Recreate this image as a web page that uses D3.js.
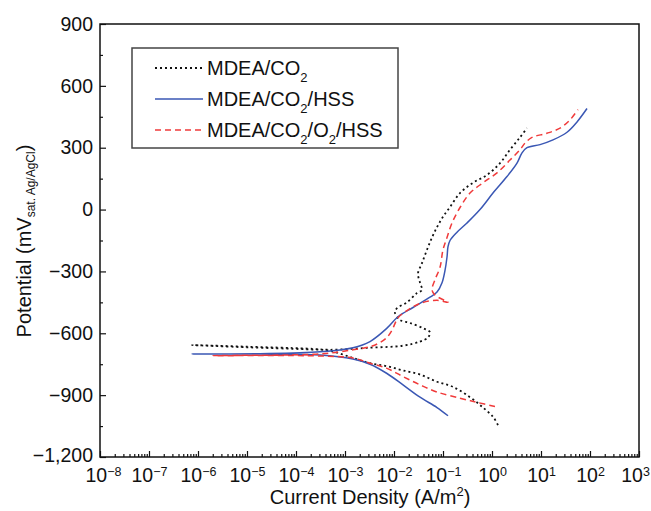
<!DOCTYPE html>
<html>
<head>
<meta charset="utf-8">
<script src="https://cdnjs.cloudflare.com/ajax/libs/d3/7.8.5/d3.min.js"></script>
<style>
  body { margin: 0; background: #fff; }
  svg { font-family: "Liberation Sans", Arial, Helvetica, sans-serif; }
  .axis text { font-size: 19.5px; fill: #111; }
  .axis line { stroke: #111; stroke-width: 1.2; }
</style>
</head>
<body>
<div id="chart"></div>
<script>
// log10 of current density (A/m2) and potential (mV)
const seriesNames = ["MDEA/CO2", "MDEA/CO2/HSS", "MDEA/CO2/O2/HSS"];

const mdeaCo2LogI = [0.122, 0.020, -0.184, -0.449, -0.796, -1.122, -1.469, -1.816, -2.143, -2.490, -2.837, -3.306,
  -3.776, -5.0, -6.122, -5.0, -3.776, -3.306,
  -2.490, -1.816, -1.469, -1.306, -1.265, -1.408, -1.673, -1.878, -1.980, -1.939, -1.735, -1.531, -1.429,
  -1.469, -1.510, -1.429, -1.327, -1.224, -1.122, -1.0, -0.857, -0.653, -0.388, -0.102, 0.163, 0.367, 0.571, 0.714];
const mdeaCo2E = [-1045, -1005, -960, -910, -860, -835, -800, -780, -760, -745, -720, -685,
  -678, -668, -657, -665, -674, -680,
  -670, -660, -640, -620, -595, -575, -550, -535, -500, -478, -450, -405, -390,
  -355, -310, -260, -195, -135, -85, -35, 12, 80, 130, 168, 225, 290, 350, 395];

const mdeaCo2HssLogI = [-0.898, -1.122, -1.469, -1.816, -2.143, -2.490, -2.837, -3.510, -4.735, -6.122,
  -4.735, -3.510, -2.837, -2.490, -2.143, -1.918, -1.612, -1.265, -1.122, -1.020, -0.959, -0.918, -0.898,
  -0.857, -0.714, -0.510, -0.245, 0.020, 0.306, 0.510, 0.612, 0.714, 0.980, 1.245, 1.531, 1.735, 1.939];
const mdeaCo2HssE = [-1000, -960, -910, -850, -795, -750, -725, -705, -701, -700,
  -699, -690, -670, -640, -575, -520, -475, -425, -400, -355, -295, -230, -180,
  -150, -110, -65, 0, 80, 160, 225, 275, 300, 315, 338, 375, 425, 490];

const mdeaCo2O2HssLogI = [0.061, -0.306, -0.653, -1.122, -1.469, -1.816, -2.143, -2.490, -2.837, -3.510, -5.694,
  -3.510, -2.837, -2.490, -2.286, -2.143, -2.041, -1.918, -1.735, -1.469, -1.122, -0.898, -1.163, -1.224,
  -1.163, -1.061, -1.0, -0.918, -0.816, -0.653, -0.449, -0.184, 0.102, 0.367, 0.571, 0.673, 0.816, 1.122,
  1.388, 1.592, 1.755];
const mdeaCo2O2HssE = [-955, -935, -915, -885, -850, -810, -770, -745, -720, -710, -708,
  -700, -680, -665, -645, -620, -585, -525, -490, -455, -440, -450, -415, -390,
  -340, -280, -195, -135, -65, 10, 80, 130, 178, 240, 290, 322, 350, 370,
  395, 435, 485];

const xTickExponents = [-8, -7, -6, -5, -4, -3, -2, -1, 0, 1, 2, 3];
const yTickValues = [-1200, -900, -600, -300, 0, 300, 600, 900];

const W = 651, H = 511;
const svg = d3.select("#chart").append("svg").attr("width", W).attr("height", H);

const x = d3.scaleLog().domain([1e-8, 1e3]).range([100, 639]);
const y = d3.scaleLinear().domain([-1200, 900]).range([457, 24]);

// minor ticks
const xMinor = [];
xTickExponents.slice(0, -1).forEach(e => {
  for (let k = 2; k <= 9; k++) xMinor.push(k * Math.pow(10, e));
});
const yMinor = d3.range(-1050, 900, 300);

svg.append("g").attr("class", "axis")
  .attr("transform", "translate(0,457)")
  .call(d3.axisBottom(x).tickValues(xMinor).tickSize(-3).tickFormat(""))
  .select(".domain").remove();

const xAxis = svg.append("g").attr("class", "axis")
  .attr("transform", "translate(0,457)")
  .call(d3.axisBottom(x).tickValues(xTickExponents.map(e => Math.pow(10, e)))
    .tickSize(-6).tickPadding(11).tickFormat(""));
xAxis.select(".domain").remove();
xAxis.selectAll(".tick text")
  .attr("dy", "0.71em")
  .attr("dx", (d, i, n) => i === n.length - 1 ? -4 : (i === 0 ? 3 : 0))
  .each(function(d) {
    const e = Math.round(Math.log10(d));
    const t = d3.select(this);
    t.append("tspan").text("10");
    t.append("tspan").attr("dy", "-0.45em").style("font-size", "12.5px")
      .text(e < 0 ? "\u2212" + (-e) : String(e));
  });

svg.append("g").attr("class", "axis")
  .attr("transform", "translate(100,0)")
  .call(d3.axisLeft(y).tickValues(yMinor).tickSize(-3).tickFormat(""))
  .select(".domain").remove();

const yAxis = svg.append("g").attr("class", "axis")
  .attr("transform", "translate(100,0)")
  .call(d3.axisLeft(y).tickValues(yTickValues).tickSize(-6).tickPadding(7).tickFormat(d3.format(",")));
yAxis.select(".domain").remove();
yAxis.selectAll(".tick text").filter(d => d === -1200).attr("y", -2);

// frame
svg.append("rect")
  .attr("x", 100).attr("y", 24).attr("width", 539).attr("height", 433)
  .attr("fill", "none").attr("stroke", "#111").attr("stroke-width", 1.5);

// curves
const styles = [
  { color: "#111", dash: "2,3", width: 1.8 },
  { color: "#3a57b4", dash: null, width: 1.5 },
  { color: "#f03a3a", dash: "6,4", width: 1.5 }
];
const curves = [
  d3.zip(mdeaCo2LogI, mdeaCo2E),
  d3.zip(mdeaCo2HssLogI, mdeaCo2HssE),
  d3.zip(mdeaCo2O2HssLogI, mdeaCo2O2HssE)
];
const line = d3.line()
  .x(d => x(Math.pow(10, d[0])))
  .y(d => y(d[1]))
  .curve(d3.curveCatmullRom.alpha(0.5));

curves.forEach((c, i) => {
  svg.append("path")
    .datum(c)
    .attr("fill", "none")
    .attr("stroke", styles[i].color)
    .attr("stroke-width", styles[i].width)
    .attr("stroke-dasharray", styles[i].dash)
    .attr("d", line);
});

// legend
const lg = svg.append("g");
lg.append("rect")
  .attr("x", 132).attr("y", 48).attr("width", 266).attr("height", 100)
  .attr("fill", "#fff").attr("stroke", "#444").attr("stroke-width", 1.5);

const legendParts = [
  [["MDEA/CO", 0], ["2", 1]],
  [["MDEA/CO", 0], ["2", 1], ["/HSS", 0]],
  [["MDEA/CO", 0], ["2", 1], ["/O", 0], ["2", 1], ["/HSS", 0]]
];
seriesNames.forEach((name, i) => {
  const cy = 68 + i * 31;
  lg.append("line")
    .attr("x1", 155).attr("x2", 203).attr("y1", cy).attr("y2", cy)
    .attr("stroke", styles[i].color)
    .attr("stroke-width", styles[i].width)
    .attr("stroke-dasharray", styles[i].dash);
  const t = lg.append("text")
    .attr("x", 207).attr("y", cy + 7)
    .style("font-size", "20px").attr("fill", "#111");
  let sub = false;
  legendParts[i].forEach(([s, isSub]) => {
    const ts = t.append("tspan").text(s);
    if (isSub && !sub) ts.attr("dy", 7).style("font-size", "13px");
    if (!isSub && sub) ts.attr("dy", -7);
    sub = !!isSub;
  });
});

// axis titles
const xt = svg.append("text")
  .attr("x", 370).attr("y", 504).attr("text-anchor", "middle")
  .style("font-size", "20px").attr("fill", "#111");
xt.append("tspan").text("Current Density (A/m");
xt.append("tspan").attr("dy", -8).style("font-size", "13px").text("2");
xt.append("tspan").attr("dy", 8).text(")");

const yt = svg.append("text")
  .attr("transform", "translate(31,241) rotate(-90)")
  .attr("text-anchor", "middle")
  .style("font-size", "20px").attr("fill", "#111");
yt.append("tspan").text("Potential (mV");
yt.append("tspan").attr("dy", 4).style("font-size", "12px").text("sat. Ag/AgCl");
yt.append("tspan").attr("dy", -4).text(")");
</script>
</body>
</html>
